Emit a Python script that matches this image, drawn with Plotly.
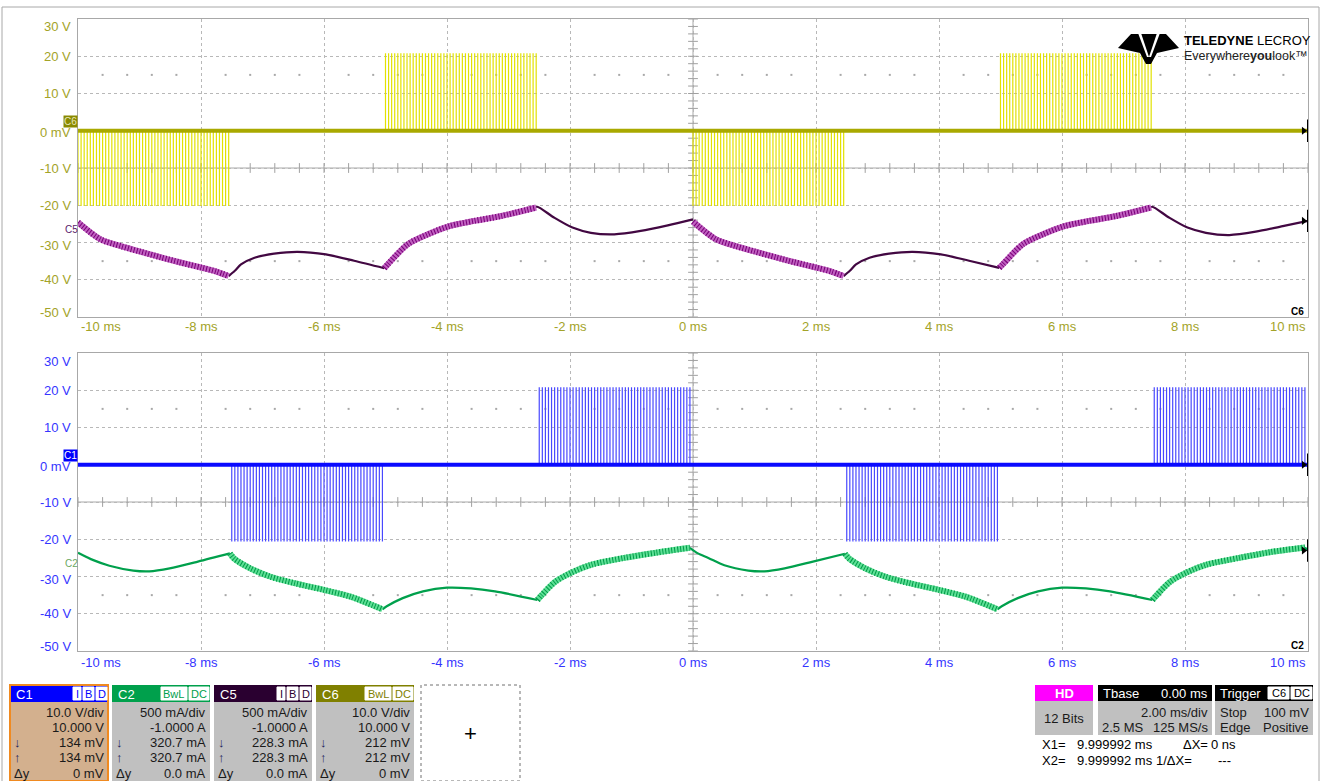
import numpy as np
import plotly.graph_objects as go

W, H = 1323, 781
FONT = "Liberation Sans, Arial, sans-serif"

# ---------------- axis ticks ----------------
x_tick_vals = [-10, -8, -6, -4, -2, 0, 2, 4, 6, 8, 10]
x_tick_text = ["-10 ms", "-8 ms", "-6 ms", "-4 ms", "-2 ms", "0 ms",
               "2 ms", "4 ms", "6 ms", "8 ms", "10 ms"]
y_tick_vals = [30, 20, 10, 0, -10, -20, -30, -40, -50]
y_tick_text = ["30 V", "20 V", "10 V", "0 mV", "-10 V", "-20 V",
               "-30 V", "-40 V", "-50 V"]

# ---------------- gate drive bursts (C6 top, C1 bottom) ----------------
pulse_period_ms = 0.05
c6_burst_start = [-10.0, -5.0, 0.0, 5.0]
c6_burst_end = [-7.55, -2.55, 2.45, 7.45]
c6_burst_peak = [-20.2, 20.8, -20.2, 20.8]
c1_burst_start = [-7.5, -2.5, 2.5, 7.5]
c1_burst_end = [-5.05, -0.05, 4.95, 9.95]
c1_burst_peak = [-20.6, 20.8, -20.6, 20.8]

# ---------------- coil currents, plotted on the 10 V/div grid ----------------
# ripple flag = 1 where the PWM burst is active
c5_t = [-10.0, -9.64, -9.3, -9.0, -8.65, -8.35, -8.0, -7.75, -7.55,
        -7.55, -7.45, -7.35, -7.13, -6.81, -6.43, -5.97, -5.51, -5.02,
        -5.02, -4.96, -4.64, -4.31, -3.96, -3.56, -3.12, -2.55,
        -2.55, -2.53, -2.25, -1.96, -1.66, -1.28, -0.85, -0.41, 0.0,
        0.0, 0.36, 0.7, 1.0, 1.35, 1.65, 2.0, 2.25, 2.45,
        2.45, 2.55, 2.65, 2.87, 3.19, 3.57, 4.03, 4.49, 4.98,
        4.98, 5.04, 5.36, 5.69, 6.04, 6.44, 6.88, 7.45,
        7.45, 7.47, 7.75, 8.04, 8.34, 8.72, 9.15, 9.59, 10.0]
c5_v = [-24.6, -29.1, -31.0, -32.4, -34.0, -35.3, -36.7, -37.8, -39.0,
        -39.0, -37.6, -35.9, -34.1, -33.0, -32.5, -33.2, -34.9, -36.9,
        -36.9, -35.8, -30.5, -27.8, -25.6, -24.2, -22.9, -20.6,
        -20.6, -20.4, -23.4, -26.0, -27.4, -27.8, -26.9, -25.4, -23.8,
        -24.4, -29.0, -31.0, -32.4, -34.0, -35.3, -36.7, -37.8, -39.0,
        -39.0, -37.6, -35.9, -34.1, -33.0, -32.5, -33.2, -34.9, -36.8,
        -36.8, -35.8, -30.5, -27.8, -25.6, -24.2, -22.9, -20.6,
        -20.6, -20.4, -23.4, -26.0, -27.4, -28.0, -27.1, -25.6, -24.2]
c5_ripple = [1, 1, 1, 1, 1, 1, 1, 1, 1,
             0, 0, 0, 0, 0, 0, 0, 0, 0,
             1, 1, 1, 1, 1, 1, 1, 1,
             0, 0, 0, 0, 0, 0, 0, 0, 0,
             1, 1, 1, 1, 1, 1, 1, 1, 1,
             0, 0, 0, 0, 0, 0, 0, 0, 0,
             1, 1, 1, 1, 1, 1, 1, 1,
             0, 0, 0, 0, 0, 0, 0, 0, 0]

c2_t = [-10.0, -9.75, -9.49, -9.1, -8.84, -8.51, -8.05, -7.53,
        -7.53, -7.46, -7.2, -6.88, -6.48, -6.0, -5.57, -5.05,
        -5.05, -4.98, -4.72, -4.39, -4.0, -3.61, -3.22, -2.53,
        -2.53, -2.46, -2.24, -1.97, -1.65, -1.12, -0.6, -0.05,
        -0.05, 0.08, 0.25, 0.51, 0.9, 1.16, 1.49, 1.95, 2.47,
        2.47, 2.54, 2.8, 3.12, 3.52, 4.0, 4.43, 4.95,
        4.95, 5.02, 5.28, 5.61, 6.0, 6.39, 6.78, 7.47,
        7.47, 7.54, 7.76, 8.03, 8.35, 8.88, 9.4, 9.95,
        9.95, 10.0]
c2_v = [-23.6, -25.6, -27.1, -28.4, -28.6, -27.8, -26.0, -23.8,
        -23.8, -25.2, -27.8, -30.0, -31.8, -33.6, -35.4, -38.8,
        -38.8, -38.0, -35.8, -34.0, -33.0, -33.2, -34.0, -36.3,
        -36.3, -35.0, -31.4, -28.9, -26.8, -25.0, -23.6, -22.3,
        -22.3, -23.8, -25.0, -27.0, -28.4, -28.6, -27.8, -26.0, -23.9,
        -23.9, -25.2, -27.8, -30.0, -31.8, -33.6, -35.4, -38.8,
        -38.8, -38.0, -35.8, -34.0, -33.0, -33.2, -34.0, -36.3,
        -36.3, -35.0, -31.4, -28.9, -26.8, -25.0, -23.4, -22.2,
        -22.2, -23.0]
c2_ripple = [0, 0, 0, 0, 0, 0, 0, 0,
             1, 1, 1, 1, 1, 1, 1, 1,
             0, 0, 0, 0, 0, 0, 0, 0,
             1, 1, 1, 1, 1, 1, 1, 1,
             0, 0, 0, 0, 0, 0, 0, 0, 0,
             1, 1, 1, 1, 1, 1, 1, 1,
             0, 0, 0, 0, 0, 0, 0, 0,
             1, 1, 1, 1, 1, 1, 1, 1,
             0, 0]

# ---------------- readout panel texts ----------------
ch_names = ["C1", "C2", "C5", "C6"]
ch_header_colors = ["#0000ff", "#00a04c", "#2a0030", "#808000"]
ch_icons = [["I", "B", "D"], ["BwL", "DC"], ["I", "B", "D"], ["BwL", "DC"]]
ch_scale = ["10.0 V/div", "500 mA/div", "500 mA/div", "10.0 V/div"]
ch_offset = ["10.000 V", "-1.0000 A", "-1.0000 A", "10.000 V"]
ch_cursor1 = ["134 mV", "320.7 mA", "228.3 mA", "212 mV"]
ch_cursor2 = ["134 mV", "320.7 mA", "228.3 mA", "212 mV"]
ch_delta = ["0 mV", "0.0 mA", "0.0 mA", "0 mV"]

TOP_COLOR = "#a3a328"
BOT_COLOR = "#3535ff"


def px(x):
    return x / W


def py(y):
    return 1 - y / H


fig = go.Figure()

# plot areas (pixel bounds)
X0, X1 = 78, 1308
TOP_Y0, TOP_Y1 = 19, 317
BOT_Y0, BOT_Y1 = 353, 651

axis_common = dict(
    showline=True, mirror=True, linecolor="#a8a8a8", linewidth=1,
    showgrid=True, gridcolor="#b8b8b8", griddash="dot", gridwidth=1,
    zeroline=False, showticklabels=False, ticks="", fixedrange=True,
)
fig.update_layout(
    width=W, height=H, margin=dict(l=0, r=0, t=0, b=0),
    paper_bgcolor="white", plot_bgcolor="white", showlegend=False,
    font=dict(family=FONT),
    xaxis=dict(axis_common, domain=[px(X0), px(X1)], range=[-10, 10],
               tickvals=x_tick_vals, anchor="y"),
    yaxis=dict(axis_common, domain=[py(TOP_Y1), py(TOP_Y0)], range=[-50, 30],
               tickvals=y_tick_vals, anchor="x"),
    xaxis2=dict(axis_common, domain=[px(X0), px(X1)], range=[-10, 10],
                tickvals=x_tick_vals, anchor="y2"),
    yaxis2=dict(axis_common, domain=[py(BOT_Y1), py(BOT_Y0)], range=[-50, 30],
                tickvals=y_tick_vals, anchor="x2"),
)

shapes = []
annotations = []

# graticule centre lines, tick marks and dot rows
minor_t = np.round(np.arange(-10, 10.001, 0.4), 3)
minor_v = np.arange(-50, 30.001, 2)
dot_t = [t for t in minor_t if abs(t / 2 - round(t / 2)) > 1e-6]
for xa, ya in (("x", "y"), ("x2", "y2")):
    shapes.append(dict(type="line", xref=xa, yref=ya, x0=-10, x1=10, y0=-10, y1=-10,
                       line=dict(color="#a8a8a8", width=1), layer="below"))
    shapes.append(dict(type="line", xref=xa, yref=ya, x0=0, x1=0, y0=-50, y1=30,
                       line=dict(color="#a8a8a8", width=1), layer="below"))
    fig.add_trace(go.Scatter(x=minor_t, y=[-10] * len(minor_t), xaxis=xa, yaxis=ya,
                             mode="markers", hoverinfo="skip",
                             marker=dict(symbol="line-ns", size=7,
                                         line=dict(color="#a0a0a0", width=1))))
    fig.add_trace(go.Scatter(x=[0] * len(minor_v), y=minor_v, xaxis=xa, yaxis=ya,
                             mode="markers", hoverinfo="skip",
                             marker=dict(symbol="line-ew", size=7,
                                         line=dict(color="#a0a0a0", width=1))))
    fig.add_trace(go.Scatter(x=dot_t * 2, y=[15] * len(dot_t) + [-35] * len(dot_t),
                             xaxis=xa, yaxis=ya, mode="markers", hoverinfo="skip",
                             marker=dict(symbol="square", size=2, color="#a8a8a8")))


def pulse_train(starts, ends, peaks):
    xs, ys = [], []
    for s, e, p in zip(starts, ends, peaks):
        for t in np.arange(s, e + 1e-9, pulse_period_ms):
            xs += [t, t, None]
            ys += [0, p, None]
    return xs, ys


def runs(t, v, flag, want):
    """Points whose flag equals `want`, with a gap between separate runs."""
    xs, ys = [], []
    prev = None
    for ti, vi, f in zip(t, v, flag):
        if f == want:
            if prev is not None and prev != want and xs:
                xs.append(None)
                ys.append(None)
            xs.append(ti)
            ys.append(vi)
        prev = f
    return xs, ys


def add_current(t, v, flag, xa, ya, line_col, band_col, tooth_col):
    sx, sy = runs(t, v, flag, 0)
    fig.add_trace(go.Scatter(x=sx, y=sy, xaxis=xa, yaxis=ya, mode="lines",
                             hoverinfo="skip",
                             line=dict(color=line_col, width=2.2, shape="spline",
                                       smoothing=0.8)))
    rx, ry = runs(t, v, flag, 1)
    fig.add_trace(go.Scatter(x=rx, y=ry, xaxis=xa, yaxis=ya, mode="lines",
                             hoverinfo="skip",
                             line=dict(color=band_col, width=6, shape="spline",
                                       smoothing=0.8)))
    fig.add_trace(go.Scatter(x=rx, y=ry, xaxis=xa, yaxis=ya, mode="lines",
                             hoverinfo="skip",
                             line=dict(color=tooth_col, width=6, dash="1px,2px",
                                       shape="spline", smoothing=0.8)))


def add_gate(starts, ends, peaks, xa, ya, spike_col, base_col):
    sx, sy = pulse_train(starts, ends, peaks)
    fig.add_trace(go.Scatter(x=sx, y=sy, xaxis=xa, yaxis=ya, mode="lines",
                             hoverinfo="skip", line=dict(color=spike_col, width=1.2)))
    fig.add_trace(go.Scatter(x=[-10, 10], y=[0, 0], xaxis=xa, yaxis=ya, mode="lines",
                             hoverinfo="skip", line=dict(color=base_col, width=4)))


# top: C5 current + C6 gate
add_current(c5_t, c5_v, c5_ripple, "x", "y", "#420842", "#c060c0", "#780078")
add_gate(c6_burst_start, c6_burst_end, c6_burst_peak, "x", "y", "#e2e200", "#a9a900")
# bottom: C2 current + C1 gate
add_current(c2_t, c2_v, c2_ripple, "x2", "y2", "#00a04c", "#5ee096", "#009a48")
add_gate(c1_burst_start, c1_burst_end, c1_burst_peak, "x2", "y2", "#4848ff", "#0a0aff")

# trigger position markers under the time axes
fig.add_trace(go.Scatter(x=[0], y=[-51.6], xaxis="x", yaxis="y", mode="markers",
                         cliponaxis=False, hoverinfo="skip",
                         marker=dict(symbol="triangle-up", size=9, color="#8a8a00")))
fig.add_trace(go.Scatter(x=[0], y=[-51.6], xaxis="x2", yaxis="y2", mode="markers",
                         cliponaxis=False, hoverinfo="skip",
                         marker=dict(symbol="triangle-up", size=9, color="#2020ff")))
# trace-end markers on the right edge
for xa, ya, ys in (("x", "y", [0, c5_v[-1]]), ("x2", "y2", [0, c2_v[-1]])):
    fig.add_trace(go.Scatter(x=[10, 10], y=ys, xaxis=xa, yaxis=ya, mode="markers",
                             cliponaxis=False, hoverinfo="skip",
                             marker=dict(symbol="line-ns", size=16,
                                         line=dict(color="black", width=2))))
    fig.add_trace(go.Scatter(x=[9.93, 9.93], y=ys, xaxis=xa, yaxis=ya, mode="markers",
                             cliponaxis=False, hoverinfo="skip",
                             marker=dict(symbol="triangle-right", size=7, color="black")))
fig.add_trace(go.Scatter(x=[10.16], y=[0], xaxis="x", yaxis="y", mode="markers",
                         cliponaxis=False, hoverinfo="skip",
                         marker=dict(symbol="triangle-left-open", size=8,
                                     line=dict(color="#8a8a00", width=1))))


def txt(x, y, s, color="#1a1a1a", size=13, anchor="left", bg=None, **kw):
    a = dict(xref="paper", yref="paper", x=px(x), y=py(y), text=s, showarrow=False,
             xanchor=anchor, yanchor="middle",
             font=dict(family=FONT, size=size, color=color))
    if bg:
        a["bgcolor"] = bg
    a.update(kw)
    annotations.append(a)


def rect(x0, y0, x1, y1, fill=None, line=None, lw=1, dash="solid", layer="above"):
    shapes.append(dict(type="rect", xref="paper", yref="paper",
                       x0=px(x0), x1=px(x1), y0=py(y1), y1=py(y0),
                       fillcolor=fill if fill else "rgba(0,0,0,0)",
                       line=dict(color=line if line else "rgba(0,0,0,0)",
                                 width=lw if line else 0, dash=dash),
                       layer=layer))


# axis tick labels
for ya, col in (("y", TOP_COLOR), ("y2", BOT_COLOR)):
    for v, s in zip(y_tick_vals, y_tick_text):
        shift = -8 if v == 30 else (5 if v == -50 else 0)
        if v == 0:
            shift = -2
        if v == -30:
            shift = -3
        annotations.append(dict(xref="paper", yref=ya, x=px(73), y=v, yshift=shift,
                                text=s, showarrow=False, xanchor="right",
                                yanchor="middle",
                                font=dict(family=FONT, size=13, color=col)))
for xa, ypix, col in (("x", 326, TOP_COLOR), ("x2", 662, BOT_COLOR)):
    for v, s in zip(x_tick_vals, x_tick_text):
        anchor = "left" if v == -10 else ("right" if v == 10 else "center")
        annotations.append(dict(xref=xa, yref="paper", x=v, y=py(ypix), text=s,
                                showarrow=False, xanchor=anchor, yanchor="middle",
                                xshift=1 if v == -10 else 0,
                                font=dict(family=FONT, size=13, color=col)))

# channel tags on the left edge
txt(70, 121, "C6", color="#e6e6b8", size=10, anchor="center", bg="#8a8a00",
    borderpad=0)
txt(71, 229, "C5", color="#5a1a6a", size=10, anchor="center")
txt(70, 455, "C1", color="white", size=10, anchor="center", bg="#0000ff", borderpad=0)
txt(71, 563, "C2", color="#6aa860", size=10, anchor="center")
# channel name in the grid corner
txt(1306, 311, "<b>C6</b>", color="black", size=10, anchor="right")
txt(1306, 645, "<b>C2</b>", color="black", size=10, anchor="right")

# outer frame
rect(2, 7, 1319, 800, line="#a8a8a8", lw=1, layer="below")


# ---------------- logo ----------------
def path(points):
    return "M " + " L ".join(f"{px(x):.5f},{py(y):.5f}" for x, y in points) + " Z"


shapes.append(dict(type="path", xref="paper", yref="paper",
                   path=path([(1118, 48), (1131, 34), (1166, 34), (1179, 48),
                              (1157, 53), (1151, 64), (1146, 64), (1140, 53)]),
                   fillcolor="black", line=dict(width=0)))
for pts in ([(1138, 33), (1141, 33), (1149, 57), (1147, 57)],
            [(1157, 33), (1160, 33), (1151, 57), (1149, 57)]):
    shapes.append(dict(type="path", xref="paper", yref="paper", path=path(pts),
                       fillcolor="white", line=dict(width=0)))
txt(1182, 41, "<b>TELEDYNE</b> LECROY", color="black", size=13)
txt(1182, 56, "Everywhere<b>you</b>look\u2122", color="#222222", size=12.5)

# ---------------- channel readout boxes ----------------
box_x = [10, 112, 214, 316]
BW = 98
for i, bx in enumerate(box_x):
    body = "#d3b08e" if i == 0 else "#c0c0c0"
    rect(bx, 685, bx + BW, 781, fill=body)
    rect(bx, 685, bx + BW, 702, fill=ch_header_colors[i])
    if i == 0:
        rect(bx, 685, bx + BW, 781, line="#f08a20", lw=2)
    txt(bx + 4, 694, ch_names[i], color="white", size=13)
    icons = ch_icons[i]
    widths = [8 if s == "I" else (26 if s == "BwL" else (20 if s == "DC" else 11))
              for s in icons]
    xr = bx + BW - 1
    for s, w in reversed(list(zip(icons, widths))):
        x0 = xr - w
        rect(x0, 687, xr, 700, fill="white", line="white", lw=1)
        txt((x0 + xr) / 2, 694, s, color=ch_header_colors[i], size=11, anchor="center")
        xr = x0 - 2
    right = bx + BW - 2
    txt(right, 712, ch_scale[i], anchor="right")
    txt(right, 727, ch_offset[i], anchor="right")
    txt(right, 742, ch_cursor1[i], anchor="right")
    txt(right, 757, ch_cursor2[i], anchor="right")
    txt(right, 773, ch_delta[i], anchor="right")
    txt(bx + 2, 742, "\u2193", color="#20205a")
    txt(bx + 2, 757, "\u2191", color="#20205a")
    txt(bx + 2, 773, "\u0394y", color="#1a1a1a")

# empty slot
rect(421, 685, 520, 781, fill="white", line="#707070", lw=1, dash="dot")
txt(470, 733, "+", color="black", size=22, anchor="center")

# ---------------- acquisition readout ----------------
rect(1035, 685, 1093, 735, fill="#c0c0c0")
rect(1035, 685, 1093, 701, fill="#ff00ff")
txt(1064, 693, "<b>HD</b>", color="white", size=13, anchor="center")
txt(1064, 718, "12 Bits", anchor="center")

rect(1098, 685, 1212, 735, fill="#c0c0c0")
rect(1098, 685, 1212, 701, fill="black")
txt(1101, 693, "Tbase", color="white")
txt(1210, 693, "0.00 ms", color="white", anchor="right")
txt(1210, 712, "2.00 ms/div", anchor="right")
txt(1100, 727, "2.5 MS")
txt(1210, 727, "125 MS/s", anchor="right")

rect(1215, 685, 1313, 735, fill="#c0c0c0")
rect(1215, 685, 1313, 701, fill="black")
txt(1218, 693, "Trigger", color="white")
for s, x0, x1 in (("C6", 1268, 1289), ("DC", 1291, 1312)):
    rect(x0, 687, x1, 699, fill="white", line="white")
    txt((x0 + x1) / 2, 693, s, color="black", size=11, anchor="center")
txt(1218, 712, "Stop")
txt(1311, 712, "100 mV", anchor="right")
txt(1218, 727, "Edge")
txt(1311, 727, "Positive", anchor="right")

txt(1040, 744, "X1=", color="black")
txt(1075, 744, "9.999992 ms", color="black")
txt(1181, 744, "\u0394X=", color="black")
txt(1209, 744, "0 ns", color="black")
txt(1040, 760, "X2=", color="black")
txt(1075, 760, "9.999992 ms", color="black")
txt(1154, 760, "1/\u0394X=", color="black")
txt(1216, 760, "---", color="black")

fig.update_layout(shapes=shapes, annotations=annotations)
fig.write_html("out.html")
